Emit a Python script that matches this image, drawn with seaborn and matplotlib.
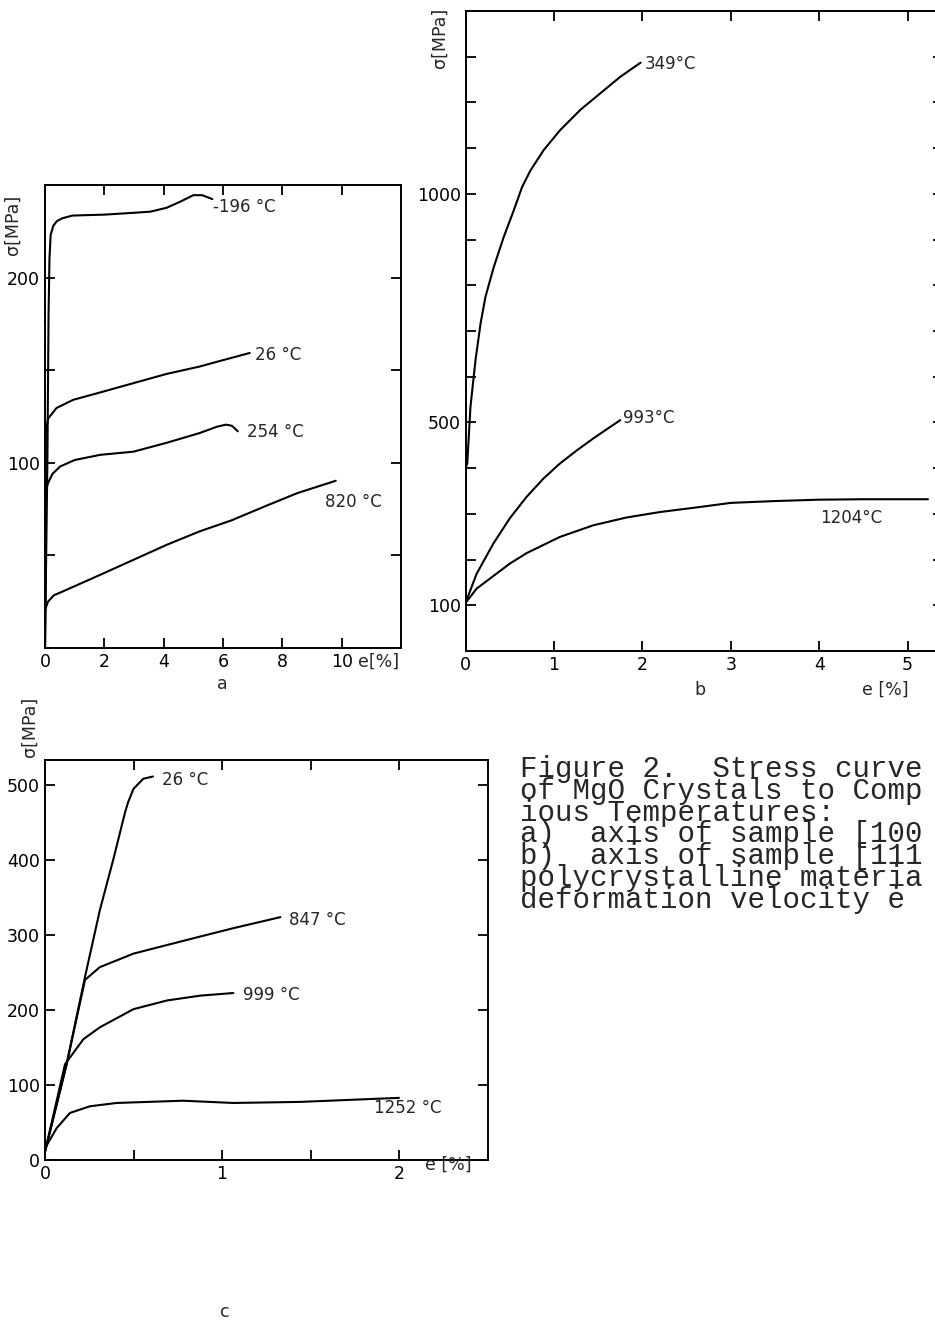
import matplotlib
matplotlib.use("Agg")
import matplotlib.pyplot as plt
import seaborn as sns

# Panel a: axis of sample [100]
a_m196_e = [0.0, 0.08, 0.12, 0.15, 0.19, 0.28, 0.40, 0.58, 0.92, 2.0, 3.0, 3.55, 4.1, 4.56, 5.0, 5.3, 5.64]
a_m196_s = [0, 100, 180, 210, 223, 228, 230.5, 232, 233.5, 234, 235, 235.6, 237.7, 241, 244.5, 244.5, 242.4]
a_26_e = [0.0, 0.03, 0.11, 0.39, 0.95, 1.86, 2.98, 4.1, 5.22, 5.67, 6.9]
a_26_s = [0, 118, 124, 129.6, 134, 138, 143, 148, 152, 154, 159.3]
a_254_e = [0.0, 0.03, 0.10, 0.25, 0.51, 1.0, 1.86, 2.98, 4.1, 5.2, 5.8, 6.1, 6.3, 6.5]
a_254_s = [0, 85, 89, 94, 98, 101.5, 104.3, 106, 110.8, 116, 119.5, 120.6, 120, 117]
a_820_e = [0.0, 0.1, 0.3, 0.58, 1.86, 2.98, 4.1, 5.2, 6.3, 7.4, 8.5, 9.8]
a_820_s = [20.5, 25, 28.5, 30.4, 39.5, 47.6, 55.7, 62.9, 69, 76.4, 83.6, 90.3]

# Panel b: axis of sample [111]
b_349_e = [0.0, 0.02, 0.056, 0.113, 0.17, 0.226, 0.32, 0.433, 0.546, 0.64, 0.734,
           0.885, 1.073, 1.3, 1.525, 1.75, 1.98]
b_349_s = [400, 410, 534, 636, 716, 775, 840, 906, 964, 1015, 1051,
           1096, 1140, 1184, 1220, 1256, 1287]
b_993_e = [0.0, 0.126, 0.315, 0.50, 0.69, 0.88, 1.067, 1.26, 1.445, 1.635, 1.75]
b_993_s = [105, 169, 235, 290, 337, 377, 410, 439, 465, 490, 505]
b_1204_e = [0.0, 0.126, 0.315, 0.50, 0.69, 1.067, 1.445, 1.82, 2.2, 2.65, 3.0, 3.5, 4.0, 4.5, 5.23]
b_1204_s = [105, 136.5, 164, 191, 214, 249.5, 275, 292, 304, 315, 324, 328, 331, 332, 332]

# Panel c: polycrystalline material
c_26_e = [0.0, 0.122, 0.226, 0.31, 0.386, 0.452, 0.47, 0.50, 0.555, 0.61]
c_26_s = [11, 127.6, 244, 333, 400.6, 463, 477, 494.6, 508, 511]
c_847_e = [0.0, 0.122, 0.226, 0.31, 0.50, 0.69, 0.876, 1.064, 1.33]
c_847_s = [11, 127.6, 240, 257, 275, 286.5, 297.7, 308.9, 323.6]
c_999_e = [0.0, 0.113, 0.217, 0.31, 0.50, 0.69, 0.876, 1.064]
c_999_s = [11, 127.6, 161, 176.8, 201, 212.6, 219, 222.5]
c_1252_e = [0.0, 0.066, 0.141, 0.254, 0.405, 0.78, 1.064, 1.44, 2.0]
c_1252_s = [15.7, 42.5, 62.7, 71.6, 76, 79, 76, 77.4, 82.8]

caption = [
    "Figure 2.  Stress curve",
    "of MgO Crystals to Comp",
    "ious Temperatures:",
    "a)  axis of sample [100",
    "b)  axis of sample [111",
    "polycrystalline materia",
    "deformation velocity ė",
]

sns.set_style("ticks")
plt.rcParams["font.family"] = ["DejaVu Sans"]

W, H = 935, 1324
fig = plt.figure(figsize=(W / 100, H / 100), dpi=100)


def box(l, t, r, b):
    return [l / W, 1 - b / H, (r - l) / W, (b - t) / H]


def style(ax):
    ax.tick_params(direction="in", top=True, right=True, length=7, width=1.3,
                   labelsize=12.5, colors="black")
    for sp in ax.spines.values():
        sp.set_visible(True)
        sp.set_linewidth(1.4)
        sp.set_color("black")
    ax.set_xlabel("")
    ax.set_ylabel("")


def curve(ax, e, s):
    sns.lineplot(x=e, y=s, ax=ax, color="black", linewidth=1.5,
                 sort=False, estimator=None)


# ---- panel a
ax_a = fig.add_axes(box(45, 185, 401, 648))
curve(ax_a, a_m196_e, a_m196_s)
curve(ax_a, a_26_e, a_26_s)
curve(ax_a, a_254_e, a_254_s)
curve(ax_a, a_820_e, a_820_s)
ax_a.set_xlim(0, 12)
ax_a.set_ylim(0, 250)
ax_a.set_xticks([0, 2, 4, 6, 8, 10])
ax_a.set_xticklabels(["0", "2", "4", "6", "8", "10"])
ax_a.set_yticks([50, 100, 150, 200])
ax_a.set_yticklabels(["", "100", "", "200"])
style(ax_a)
ax_a.text(5.65, 238, "-196 °C", fontsize=12, va="center")
ax_a.text(7.07, 158.4, "26 °C", fontsize=12, va="center")
ax_a.text(6.8, 116.8, "254 °C", fontsize=12, va="center")
ax_a.text(9.43, 79, "820 °C", fontsize=12, va="center")

# ---- panel b
ax_b = fig.add_axes(box(465.5, 11, 943, 651))
curve(ax_b, b_349_e, b_349_s)
curve(ax_b, b_993_e, b_993_s)
curve(ax_b, b_1204_e, b_1204_s)
ax_b.set_xlim(0, 5.4)
ax_b.set_ylim(0, 1400)
ax_b.set_xticks([0, 1, 2, 3, 4, 5])
ax_b.set_xticklabels(["0", "1", "2", "3", "4", "5"])
yt = list(range(100, 1400, 100))
ax_b.set_yticks(yt)
ax_b.set_yticklabels([str(v) if v in (100, 500, 1000) else "" for v in yt])
style(ax_b)
ax_b.text(2.03, 1283, "349°C", fontsize=12, va="center")
ax_b.text(1.78, 509, "993°C", fontsize=12, va="center")
ax_b.text(4.01, 291, "1204°C", fontsize=12, va="center")

# ---- panel c
ax_c = fig.add_axes(box(45, 760, 487.5, 1160))
curve(ax_c, c_26_e, c_26_s)
curve(ax_c, c_847_e, c_847_s)
curve(ax_c, c_999_e, c_999_s)
curve(ax_c, c_1252_e, c_1252_s)
ax_c.set_xlim(0, 2.5)
ax_c.set_ylim(0, 533)
ax_c.set_xticks([0, 0.5, 1, 1.5, 2])
ax_c.set_xticklabels(["0", "", "1", "", "2"])
ax_c.set_yticks([0, 100, 200, 300, 400, 500])
ax_c.set_yticklabels(["0", "100", "200", "300", "400", "500"])
style(ax_c)
ax_c.text(0.66, 507, "26 °C", fontsize=12, va="center")
ax_c.text(1.38, 320, "847 °C", fontsize=12, va="center")
ax_c.text(1.12, 220, "999 °C", fontsize=12, va="center")
ax_c.text(1.86, 69, "1252 °C", fontsize=12, va="center")


# ---- axis titles and panel letters (figure pixel coords)
def ftext(x, y, s, **kw):
    fig.text(x / W, 1 - y / H, s, **kw)


ftext(13, 225, "σ[MPa]", rotation=90, ha="center", va="center", fontsize=12.5)
ftext(440, 38, "σ[MPa]", rotation=90, ha="center", va="center", fontsize=12.5)
ftext(30, 727, "σ[MPa]", rotation=90, ha="center", va="center", fontsize=12.5)
ftext(358, 662, "e[%]", ha="left", va="center", fontsize=12.5)
ftext(862, 690, "e [%]", ha="left", va="center", fontsize=12.5)
ftext(425, 1165, "e [%]", ha="left", va="center", fontsize=12.5)
ftext(222, 684, "a", ha="center", va="center", fontsize=12.5)
ftext(700, 690, "b", ha="center", va="center", fontsize=12.5)
ftext(225, 1312, "c", ha="center", va="center", fontsize=12.5)

# ---- caption (baseline of the last line anchored)
ftext(520, 908, "\n".join(caption), ha="left", va="baseline",
      fontsize=21, linespacing=0.72, family=["Liberation Mono", "DejaVu Sans Mono"])

fig.savefig("out.png", dpi=100)
